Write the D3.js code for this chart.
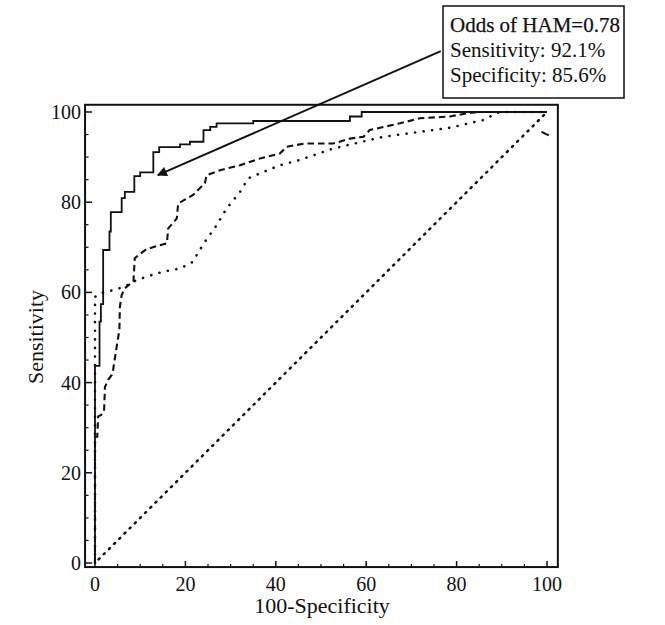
<!DOCTYPE html>
<html>
<head>
<meta charset="utf-8">
<script src="https://cdn.jsdelivr.net/npm/d3@7"></script>
<style>
  body { margin: 0; background: #fff; }
  svg text { font-family: 'Liberation Serif', 'DejaVu Serif', serif; fill: #111; }
</style>
</head>
<body>
<div id="chart"></div>
<script>
// ROC curves (x = 100-Specificity, y = Sensitivity)
var hamFpr = [0, 1, 1.3, 1.8, 3.2, 3.5, 5.9, 6.6, 8.7, 10, 12.9, 14.2, 18.8, 21, 24, 25.5, 26.9, 35, 56.4, 59, 100];
var hamTpr = [0, 43.7, 53.5, 57.4, 69.4, 73.5, 77.8, 80.9, 82.3, 85.8, 86.6, 91.1, 92.2, 92.8, 93.4, 96, 96.7, 97.5, 98, 99, 100];

var dashFpr = [0, 0, 0.5, 0.7, 1.3, 2, 2.2, 2.9, 3.7, 4, 4.8, 5.4, 5.5, 5.9, 6.6, 7.4, 8.5, 8.8, 11.4, 15.9, 16.2,
  18.1, 18.4, 21.7, 24.3, 24.7, 27.7, 32.1, 36.5, 40.9, 42.4, 46.4, 52.7, 56.4, 59.4, 60.8, 67.5, 71.9, 78.5, 82.2, 85, 100];
var dashTpr = [0, 28, 28, 32.5, 32.8, 33.5, 39, 40.6, 41.7, 42.8, 48, 51.7, 56.8, 59.4, 60.9, 61.6, 62.4, 67.6, 69.6, 70.9, 74.2,
  76.4, 79.7, 81.6, 84.2, 86, 87.1, 88.2, 89.7, 90.8, 92.3, 93, 93, 94.1, 94.5, 96, 97.5, 98.6, 99, 99.7, 100, 100];

var dotFpr = [0, 0, 1.1, 4, 6.6, 8.5, 11.4, 15.1, 18.8, 21.7, 22.5, 24.3, 26.9, 29.1, 32.1, 33.9, 36.5, 40.9, 45.4,
  52.7, 63.8, 71.2, 78.5, 85.8, 89.5, 100];
var dotTpr = [0, 59, 59.8, 60.5, 61.3, 62.4, 63.5, 64.6, 65.3, 66.8, 68.3, 71.2, 74.9, 78.6, 82.3, 85.3, 86.4, 88.2, 89.4,
  91.9, 94.5, 95.5, 96.5, 98.2, 100, 100];

var tailFpr = [98.8, 100.4];
var tailTpr = [95.6, 94.8];

var diagFpr = [0.8, 99.5];
var diagTpr = [0.8, 99.5];

var majorTicks = [0, 20, 40, 60, 80, 100];
var minorTicks = [5, 10, 15, 25, 30, 35, 45, 50, 55, 65, 70, 75, 85, 90, 95];

var noteLines = ['Odds of HAM=0.78', 'Sensitivity: 92.1%', 'Specificity: 85.6%'];
var arrowFrom = [76.5, 113.5];
var arrowTo = [13.9, 86];

(function () {
  var width = 665;
  var height = 625;

  var xScale = d3.scaleLinear().domain([0, 100]).range([95, 547]);
  var yScale = d3.scaleLinear().domain([0, 100]).range([563, 112]);

  var svg = d3.select('#chart').append('svg')
      .attr('width', width)
      .attr('height', height);

  var zip = function (xs, ys) {
    return xs.map(function (x, i) { return [x, ys[i]]; });
  };

  var line = d3.line()
      .x(function (d) { return xScale(d[0]); })
      .y(function (d) { return yScale(d[1]); });

  // frame
  var x0 = xScale(-2.2), x1 = xScale(102.4), y0 = yScale(-0.9), y1 = yScale(101.6);
  svg.append('rect')
      .attr('x', x0).attr('y', y1)
      .attr('width', x1 - x0).attr('height', y0 - y1)
      .attr('fill', 'none').attr('stroke', '#111').attr('stroke-width', 2);

  // inward ticks
  svg.append('g').selectAll('line').data(majorTicks).enter().append('line')
      .attr('x1', x0).attr('x2', x0 + 7)
      .attr('y1', yScale).attr('y2', yScale)
      .attr('stroke', '#111').attr('stroke-width', 1.5);
  svg.append('g').selectAll('line').data(minorTicks).enter().append('line')
      .attr('x1', x0).attr('x2', x0 + 3.5)
      .attr('y1', yScale).attr('y2', yScale)
      .attr('stroke', '#111').attr('stroke-width', 1.2);
  svg.append('g').selectAll('line').data(majorTicks).enter().append('line')
      .attr('x1', xScale).attr('x2', xScale)
      .attr('y1', y0).attr('y2', y0 - 6)
      .attr('stroke', '#111').attr('stroke-width', 1.5);
  svg.append('g').selectAll('line').data(minorTicks).enter().append('line')
      .attr('x1', xScale).attr('x2', xScale)
      .attr('y1', y0).attr('y2', y0 - 3)
      .attr('stroke', '#111').attr('stroke-width', 1.2);

  // tick labels
  svg.append('g').selectAll('text').data(majorTicks).enter().append('text')
      .attr('x', 81).attr('y', function (d) { return yScale(d) + 7; })
      .attr('text-anchor', 'end').attr('font-size', 20)
      .text(function (d) { return d; });
  svg.append('g').selectAll('text').data(majorTicks).enter().append('text')
      .attr('x', xScale).attr('y', 591)
      .attr('text-anchor', 'middle').attr('font-size', 20)
      .text(function (d) { return d; });

  // axis titles
  svg.append('text')
      .attr('x', 322).attr('y', 613)
      .attr('text-anchor', 'middle').attr('font-size', 22)
      .text('100-Specificity');
  svg.append('text')
      .attr('transform', 'translate(43,337) rotate(-90)')
      .attr('text-anchor', 'middle').attr('font-size', 22)
      .text('Sensitivity');

  // curves
  svg.append('path').datum(zip(diagFpr, diagTpr))
      .attr('d', line).attr('fill', 'none')
      .attr('stroke', '#111').attr('stroke-width', 2.5)
      .attr('stroke-linecap', 'round').attr('stroke-dasharray', '1.3 6');

  svg.append('path').datum(zip(dotFpr, dotTpr))
      .attr('d', line).attr('fill', 'none')
      .attr('stroke', '#111').attr('stroke-width', 2.6)
      .attr('stroke-linecap', 'round').attr('stroke-dasharray', '0.1 8.5');

  svg.append('path').datum(zip(dashFpr, dashTpr))
      .attr('d', line).attr('fill', 'none')
      .attr('stroke', '#111').attr('stroke-width', 2.1)
      .attr('stroke-dasharray', '6.5 4');

  svg.append('path').datum(zip(tailFpr, tailTpr))
      .attr('d', line).attr('fill', 'none')
      .attr('stroke', '#111').attr('stroke-width', 2);

  svg.append('path').datum(zip(hamFpr, hamTpr))
      .attr('d', line.curve(d3.curveStepBefore)).attr('fill', 'none')
      .attr('stroke', '#111').attr('stroke-width', 1.8);

  // annotation box + arrow
  svg.append('defs').append('marker')
      .attr('id', 'head')
      .attr('viewBox', '0 0 10 10')
      .attr('refX', 9).attr('refY', 5)
      .attr('markerWidth', 6).attr('markerHeight', 5)
      .attr('markerUnits', 'strokeWidth')
      .attr('orient', 'auto')
    .append('path')
      .attr('d', 'M0,0L10,5L0,10Z').attr('fill', '#111');

  svg.append('line')
      .attr('x1', xScale(arrowFrom[0])).attr('y1', yScale(arrowFrom[1]))
      .attr('x2', xScale(arrowTo[0])).attr('y2', yScale(arrowTo[1]))
      .attr('stroke', '#111').attr('stroke-width', 2)
      .attr('marker-end', 'url(#head)');

  svg.append('rect')
      .attr('x', 443).attr('y', 6).attr('width', 181).attr('height', 92)
      .attr('fill', '#fff').attr('stroke', '#111').attr('stroke-width', 1.5);

  svg.append('g').selectAll('text').data(noteLines).enter().append('text')
      .attr('x', 450).attr('y', function (d, i) { return 32 + i * 25; })
      .attr('font-size', 21)
      .attr('stroke', function (d, i) { return i === 0 ? '#111' : 'none'; })
      .attr('stroke-width', 0.25)
      .text(function (d) { return d; });
})();
</script>
</body>
</html>
